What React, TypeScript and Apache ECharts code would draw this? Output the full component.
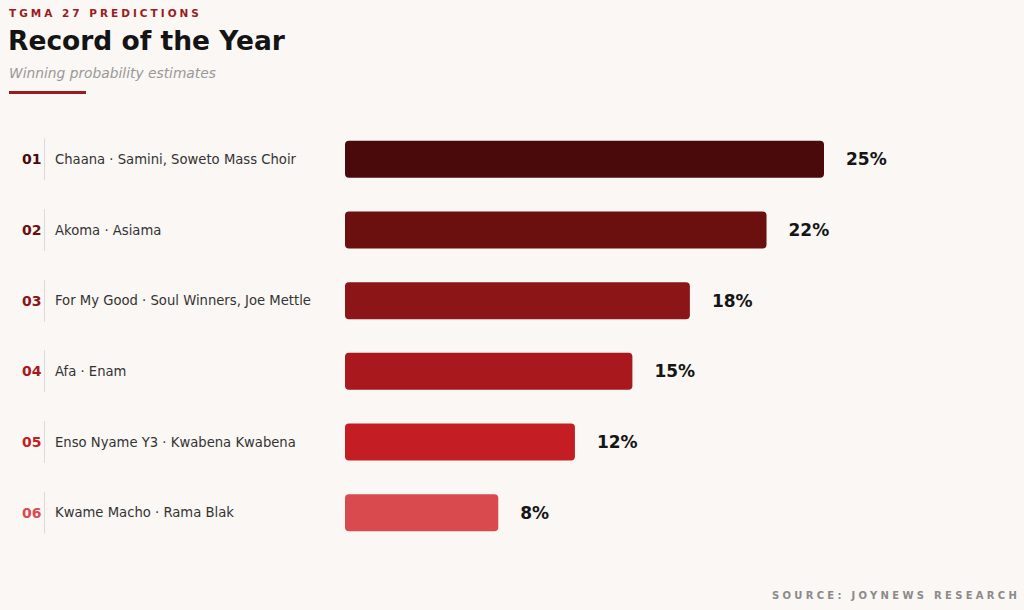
import { useEffect, useRef } from "react";
import * as echarts from "echarts";

const ranks = ["01", "02", "03", "04", "05", "06"];
const songs = [
  "Chaana · Samini, Soweto Mass Choir",
  "Akoma · Asiama",
  "For My Good · Soul Winners, Joe Mettle",
  "Afa · Enam",
  "Enso Nyame Y3 · Kwabena Kwabena",
  "Kwame Macho · Rama Blak",
];
const probabilities = [25, 22, 18, 15, 12, 8];
const barColors = ["#4a0a0b", "#6b0f0f", "#8b1517", "#a8181c", "#c41e24", "#d94a4e"];

const FONT = "DejaVu Sans";
const KICKER = "TGMA 27 PREDICTIONS";
const SOURCE = "SOURCE: JOYNEWS RESEARCH";

export default function App() {
  const chartRef = useRef<HTMLDivElement>(null);

  useEffect(() => {
    if (!chartRef.current) return;
    const chart = echarts.init(chartRef.current, undefined, { renderer: "svg" });

    const rankRich: Record<string, any> = {};
    barColors.forEach((c, i) => {
      rankRich["r" + i] = {
        fontFamily: FONT,
        fontSize: 14,
        fontWeight: "bold",
        color: c,
        width: 22,
        align: "left",
      };
    });

    const option: echarts.EChartsOption = {
      animation: false,
      backgroundColor: "#faf7f4",
      textStyle: { fontFamily: FONT },
      grid: { left: 345, width: 479, top: 124, height: 424 },
      xAxis: {
        type: "value",
        min: 0,
        max: 25,
        show: false,
      },
      yAxis: {
        type: "category",
        inverse: true,
        data: songs,
        axisLine: { show: false },
        axisTick: { show: false },
        splitLine: { show: false },
        axisLabel: {
          align: "left",
          margin: 323,
          formatter: (value: string, index: number) =>
            `{r${index}|${ranks[index]}}{sep|}{name|${value}}`,
          rich: {
            ...rankRich,
            sep: { width: 1, height: 42, backgroundColor: "#dddad6" },
            name: {
              fontFamily: FONT,
              fontSize: 13.2,
              color: "#333333",
              padding: [0, 0, 0, 10],
            },
          },
        },
      },
      series: [
        {
          type: "bar",
          barWidth: 37,
          data: probabilities.map((v, i) => ({
            value: v,
            itemStyle: { color: barColors[i], borderRadius: 4 },
          })),
          label: {
            show: true,
            position: "right",
            distance: 22,
            formatter: "{c}%",
            fontFamily: FONT,
            fontSize: 17,
            fontWeight: "bold",
            color: "#151515",
          },
        },
      ],
      graphic: [
        {
          type: "text",
          left: 9,
          top: 7,
          style: {
            text: KICKER,
            fontFamily: FONT,
            fontSize: 10.5,
            fontWeight: "bold",
            fill: "#9b1b1e",
          },
        },
        {
          type: "text",
          left: 8,
          top: 27,
          style: {
            text: "Record of the Year",
            fontFamily: FONT,
            fontSize: 26.5,
            fontWeight: "bold",
            fill: "#141414",
          },
        },
        {
          type: "text",
          left: 9,
          top: 66,
          style: {
            text: "Winning probability estimates",
            fontFamily: FONT,
            fontSize: 13.8,
            fontStyle: "italic",
            fill: "#999999",
          },
        },
        {
          type: "rect",
          left: 9,
          top: 91,
          shape: { width: 77, height: 3 },
          style: { fill: "#9b1b1e" },
        },
        {
          type: "text",
          left: 772,
          top: 590,
          style: {
            text: SOURCE,
            fontFamily: FONT,
            fontSize: 10,
            fontWeight: "bold",
            fill: "#8a8a8a",
          },
        },
      ],
    };

    chart.setOption(option);

    // spaced-out caps for the kicker and the source line
    chartRef.current.querySelectorAll("text").forEach((el) => {
      const t = el.textContent;
      if (t === KICKER) (el as SVGTextElement).style.letterSpacing = "3px";
      if (t === SOURCE) (el as SVGTextElement).style.letterSpacing = "3.3px";
    });

    return () => chart.dispose();
  }, []);

  return (
    <div
      ref={chartRef}
      style={{ position: "fixed", left: 0, top: 0, width: 1024, height: 610 }}
    />
  );
}
